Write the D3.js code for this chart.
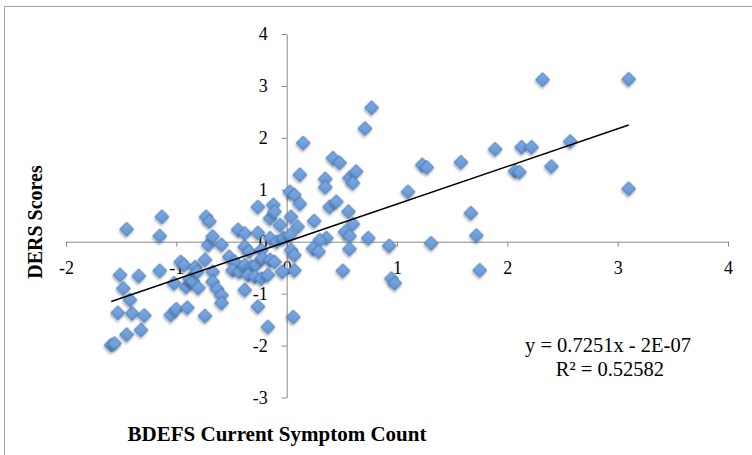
<!DOCTYPE html>
<html>
<head>
<meta charset="utf-8">
<script src="https://cdn.jsdelivr.net/npm/d3@7"></script>
<style>
  body { margin: 0; background: #fff; }
  svg { display: block; }
</style>
</head>
<body>
<div id="chart"></div>
<script>
// BDEFS current symptom count (x) and DERS scores (y), standardized
const bdefsCount = [
  -1.59, -1.56, -1.45, -1.32, -1.53, -1.40, -1.29, -1.42, -1.48, -1.51, -1.34,
  -1.15, -1.15, -1.13, -1.45, -0.96, -1.02, -0.91, -1.05, -1.00, -0.90,
  -0.93, -0.88, -0.85, -0.83, -0.81, -0.80, -0.74, -0.74, -0.73, -0.70, -0.71,
  -0.67, -0.59, -0.67, -0.67, -0.63, -0.59, -0.59, -0.52, -0.47, -0.49, -0.43,
  -0.44, -0.38, -0.38, -0.34, -0.38, -0.32, -0.28, -0.38, -0.35, -0.29, -0.23,
  -0.26, -0.26, -0.26, -0.23, -0.22, -0.15, -0.11, -0.17, -0.17, -0.15, -0.15,
  -0.09, -0.03, -0.12, -0.11, -0.06, 0.03, 0.07, 0.04, 0.04, 0.06, 0.07, 0.07,
  -0.04,
  0.15, 0.42, 0.48, 0.12, 0.35, 0.35, 0.57, 0.63, 0.60, 0.12, 0.39, 0.45, 0.56,
  0.60, 0.10, 0.25, 0.03, 0.36, 0.30, 0.24, 0.29, 0.53, 0.57, 0.74, 0.93, 0.57,
  0.51, 0.95, 0.98, 0.77, 0.71,
  1.10, 1.23, 1.27, 1.31, 1.58, 1.67, 1.72, 1.75, 1.89, 2.07, 2.11, 2.13, 2.22,
  2.32, 2.40, 2.57, 3.10, 3.10
];
const dersScores = [
  -1.99, -1.96, -1.79, -1.70, -1.37, -1.38, -1.42, -1.12, -0.90, -0.64, -0.66,
  -0.56, 0.11, 0.48, 0.24, -0.39, -0.80, -0.87, -1.41, -1.30, -1.27,
  -0.45, -0.72, -0.76, -0.49, -0.58, -0.89, -0.35, -1.43, 0.48, 0.39, -0.06,
  0.10, -0.06, -0.58, -0.77, -0.91, -1.03, -1.18, -0.29, -0.39, -0.55, -0.58,
  0.23, 0.16, -0.10, -0.19, -0.45, -0.48, -0.45, -0.93, -0.64, -0.67, -0.71,
  0.67, 0.17, -1.25, -0.16, -0.32, -0.35, -0.39, -0.64, -1.64, 0.45, 0.07,
  0.00, 0.07, 0.71, 0.58, 0.32, 0.96, 0.90, 0.48, -0.16, -1.45, -0.26, -0.55,
  -0.58,
  1.90, 1.61, 1.52, 1.29, 1.21, 1.05, 1.23, 1.35, 1.13, 0.73, 0.67, 0.77, 0.58,
  0.34, 0.29, 0.40, 0.13, 0.07, 0.03, -0.13, -0.19, 0.19, 0.11, 0.07, -0.08, -0.14,
  -0.56, -0.71, -0.80, 2.58, 2.18,
  0.96, 1.48, 1.43, -0.03, 1.53, 0.55, 0.12, -0.55, 1.78, 1.36, 1.34, 1.82, 1.82,
  3.12, 1.45, 1.93, 3.13, 1.02
];
const xTicks = [-2, -1, 0, 1, 2, 3, 4];
const yTicks = [-3, -2, -1, 0, 1, 2, 3, 4];
const trendSlope = 0.7251;
const trendIntercept = -2e-7;
const equationText = "y = 0.7251x - 2E-07";
const r2Text = "R\u00B2 = 0.52582";
const xTitle = "BDEFS Current Symptom Count";
const yTitle = "DERS Scores";

const W = 752, H = 455;
const margin = { top: 34, right: 24, bottom: 57.5, left: 66 };

const points = bdefsCount.map((x, i) => ({ x, y: dersScores[i] }));

const svg = d3.select("#chart").append("svg")
  .attr("width", W).attr("height", H);

// drop shadow and soft gradient for markers
const defs = svg.append("defs");
defs.append("filter").attr("id", "shadow")
  .attr("x", "-50%").attr("y", "-50%").attr("width", "200%").attr("height", "200%")
  .append("feDropShadow")
  .attr("dx", 1).attr("dy", 2).attr("stdDeviation", 1)
  .attr("flood-color", "#000").attr("flood-opacity", 0.3);
const grad = defs.append("linearGradient").attr("id", "marker-fill")
  .attr("x1", 0).attr("y1", 0).attr("x2", 1).attr("y2", 1);
grad.append("stop").attr("offset", "0%").attr("stop-color", "#7eaae2");
grad.append("stop").attr("offset", "100%").attr("stop-color", "#6494d2");

// chart frame
svg.append("rect")
  .attr("x", 4.5).attr("y", 6.5)
  .attr("width", 800).attr("height", 500)
  .attr("fill", "none").attr("stroke", "#a6a6a6");

const xScale = d3.scaleLinear().domain([-2, 4]).range([margin.left, W - margin.right]);
const yScale = d3.scaleLinear().domain([-3, 4]).range([H - margin.bottom, margin.top]);

const tickFont = "'Liberation Serif', 'DejaVu Serif', serif";

// axes crossing at origin
const xAxis = svg.append("g")
  .attr("transform", `translate(0,${yScale(0)})`)
  .call(d3.axisBottom(xScale).tickValues(xTicks).tickSize(5).tickSizeOuter(0).tickPadding(15));

const yAxis = svg.append("g")
  .attr("transform", `translate(${xScale(0)},0)`)
  .call(d3.axisLeft(yScale).tickValues(yTicks).tickSize(5).tickSizeOuter(0).tickPadding(14));

[xAxis, yAxis].forEach((g) => {
  g.select(".domain").attr("stroke", "#888");
  g.selectAll(".tick line").attr("stroke", "#888");
  g.selectAll(".tick text")
    .attr("fill", "#000")
    .style("font-family", tickFont)
    .style("font-size", "18px")
    .text((d) => d < 0 ? "-" + Math.abs(d) : d);
});

// markers
svg.append("g")
  .selectAll("path")
  .data(points)
  .enter()
  .append("path")
  .attr("d", d3.symbol(d3.symbolSquare, 96)())
  .attr("transform", (d) => `translate(${xScale(d.x)},${yScale(d.y)}) rotate(45)`)
  .attr("fill", "url(#marker-fill)")
  .attr("stroke", "#4a7cbb")
  .attr("stroke-width", 1)
  .attr("filter", "url(#shadow)");

// linear trendline
const xExtent = d3.extent(bdefsCount);
svg.append("line")
  .attr("x1", xScale(xExtent[0]))
  .attr("y1", yScale(trendSlope * xExtent[0] + trendIntercept))
  .attr("x2", xScale(xExtent[1]))
  .attr("y2", yScale(trendSlope * xExtent[1] + trendIntercept))
  .attr("stroke", "#000")
  .attr("stroke-width", 1.5);

// equation labels
const eq = svg.append("g")
  .style("font-family", tickFont)
  .style("font-size", "20.5px")
  .attr("text-anchor", "middle");
eq.append("text").attr("x", 608).attr("y", 352).text(equationText);
eq.append("text").attr("x", 610).attr("y", 376).text(r2Text);

// axis titles
svg.append("text")
  .attr("x", 277).attr("y", 441)
  .attr("text-anchor", "middle")
  .style("font-family", tickFont)
  .style("font-weight", "bold")
  .style("font-size", "21px")
  .text(xTitle);

svg.append("text")
  .attr("transform", "translate(42,222) rotate(-90)")
  .attr("text-anchor", "middle")
  .style("font-family", tickFont)
  .style("font-weight", "bold")
  .style("font-size", "20px")
  .text(yTitle);
</script>
</body>
</html>
